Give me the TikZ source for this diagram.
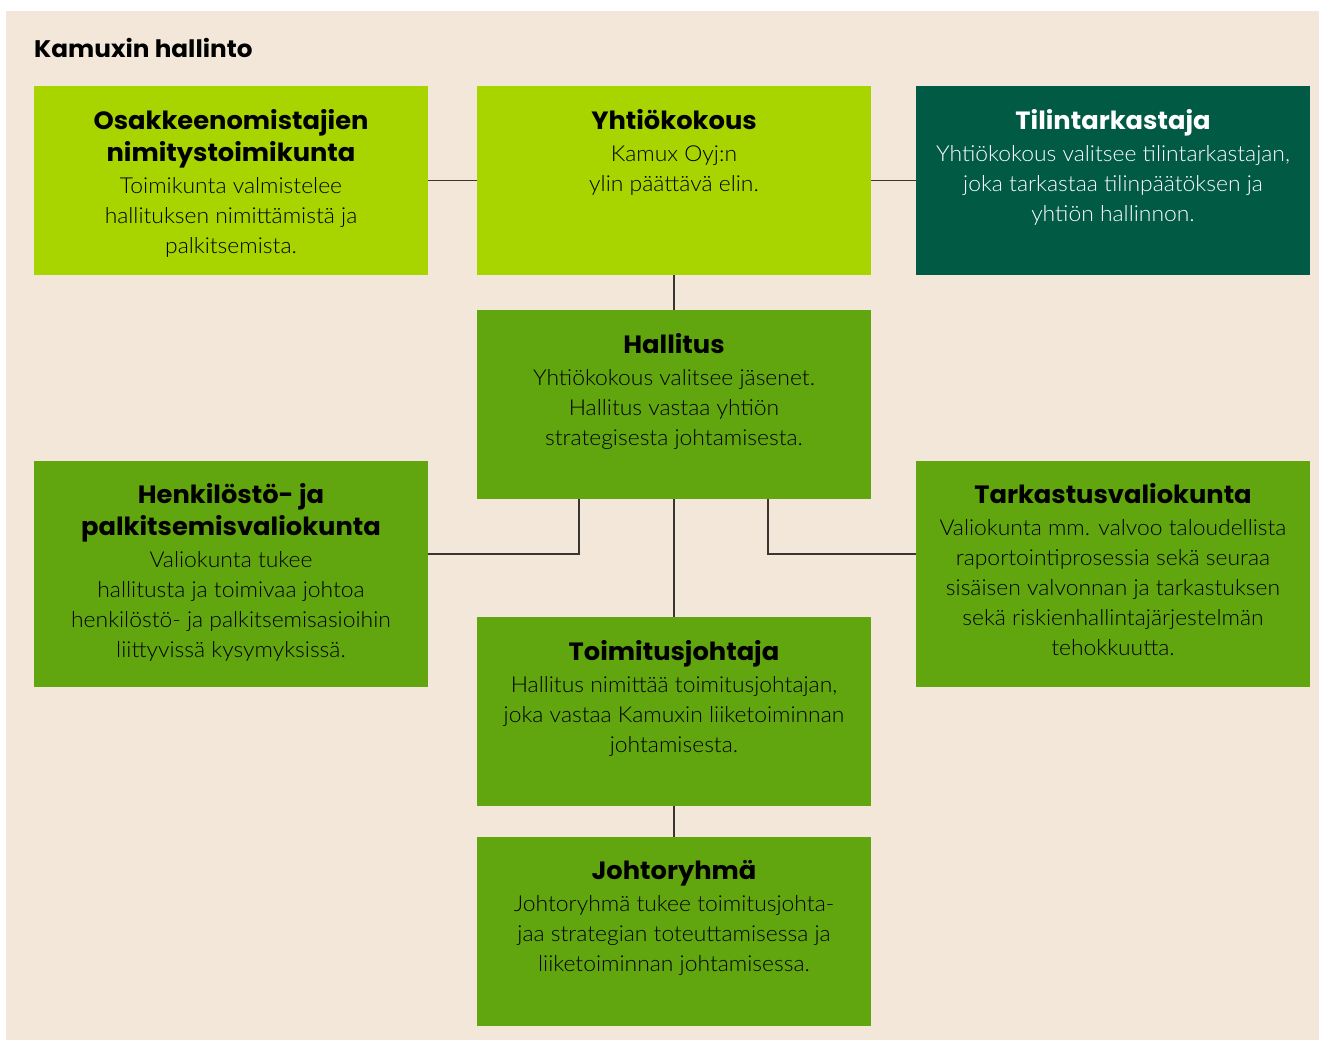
\documentclass[tikz,border=0pt]{standalone}
\usepackage{fontspec}
\IfFontExistsTF{Lato Light}{\setmainfont{Lato Light}[FakeStretch=1.04]}{\setmainfont{Lato}[FakeStretch=1.04]}
\newfontfamily\headfont{Poppins}[FakeStretch=1.03]
\usetikzlibrary{calc}
\definecolor{beige}{HTML}{F3E7DA}
\definecolor{lime}{HTML}{A8D400}
\definecolor{midgreen}{HTML}{62A60F}
\definecolor{darkgreen}{HTML}{005A44}
\definecolor{linecol}{HTML}{3A3530}
\newcommand{\hd}[1]{{\headfont\bfseries\fontsize{25}{30}\selectfont #1}}
\tikzset{
  box/.style={minimum width=394pt, minimum height=189pt, inner sep=0pt, outer sep=0pt, anchor=north west},
  boxtext/.style={anchor=north, inner sep=0pt, align=center, font=\fontsize{22}{30}\selectfont, text=black},
  conn/.style={draw=linecol, line width=1.3pt},
}
\begin{document}
\begin{tikzpicture}[x=1pt,y=-1pt]
\useasboundingbox (0,0) rectangle (1319,1040);
\fill[white] (0,0) rectangle (1319,1040);
\fill[beige] (6,11) rectangle (1319,1040);
\node[anchor=base west, inner sep=0pt] (title) at (34,57.5) {\headfont\bfseries\fontsize{24}{28}\selectfont Kamuxin hallinto};
% boxes
\node[box, fill=lime] (onk) at (34,86) {};
\node[box, fill=lime] (yk) at (477,86) {};
\node[box, fill=darkgreen] (tt) at (916,86) {};
\node[box, fill=midgreen] (hal) at (477,310) {};
\node[box, fill=midgreen, minimum height=226pt] (hpv) at (34,461) {};
\node[box, fill=midgreen, minimum height=226pt] (tv) at (916,461) {};
\node[box, fill=midgreen] (tj) at (477,617) {};
\node[box, fill=midgreen] (jr) at (477,837) {};
% texts
\node[boxtext] (onkt) at ($(onk.north)+(0,23)$) {\hd{Osakkeenomistajien}\\[2pt]\hd{nimitystoimikunta}\\[2pt]Toimikunta valmistelee\\hallituksen nimittämistä ja\\palkitsemista.};
\node[boxtext] (ykt) at ($(yk.north)+(0,23)$) {\hd{Yhtiökokous}\\[2pt]Kamux Oyj:n\\ylin päättävä elin.};
\node[boxtext, text=white] (ttt) at ($(tt.north)+(0,23)$) {\hd{Tilintarkastaja}\\[2pt]Yhtiökokous valitsee tilintarkastajan,\\joka tarkastaa tilinpäätöksen ja\\yhtiön hallinnon.};
\node[boxtext] (halt) at ($(hal.north)+(0,23)$) {\hd{Hallitus}\\[2pt]Yhtiökokous valitsee jäsenet.\\Hallitus vastaa yhtiön\\strategisesta johtamisesta.};
\node[boxtext] (hpvt) at ($(hpv.north)+(0,22)$) {\hd{Henkilöstö- ja}\\[2pt]\hd{palkitsemisvaliokunta}\\[2pt]Valiokunta tukee\\hallitusta ja toimivaa johtoa\\henkilöstö- ja palkitsemisasioihin\\liittyvissä kysymyksissä.};
\node[boxtext] (tvt) at ($(tv.north)+(0,22)$) {\hd{Tarkastusvaliokunta}\\[2pt]Valiokunta mm. valvoo taloudellista\\raportointiprosessia sekä seuraa\\sisäisen valvonnan ja tarkastuksen\\sekä riskienhallintajärjestelmän\\tehokkuutta.};
\node[boxtext] (tjt) at ($(tj.north)+(0,23)$) {\hd{Toimitusjohtaja}\\[2pt]Hallitus nimittää toimitusjohtajan,\\joka vastaa Kamuxin liiketoiminnan\\johtamisesta.};
\node[boxtext] (jrt) at ($(jr.north)+(0,23)$) {\hd{Johtoryhmä}\\[2pt]Johtoryhmä tukee toimitusjohta-\\jaa strategian toteuttamisessa ja\\liiketoiminnan johtamisessa.};
% connectors
\draw[conn] (onk.east) -- (yk.west);
\draw[conn] (yk.east) -- (tt.west);
\draw[conn] (yk.south) -- (hal.north);
\draw[conn] (hal.south) -- (tj.north);
\draw[conn] (tj.south) -- (jr.north);
\coordinate (hl) at ($(hal.south west)+(102,0)$);
\coordinate (hr) at ($(hal.south east)+(-103,0)$);
\coordinate (pl) at ($(hpv.east)+(0,-20)$);
\coordinate (pr) at ($(tv.west)+(0,-20)$);
\draw[conn] (hl) |- (pl);
\draw[conn] (hr) |- (pr);
\end{tikzpicture}
\end{document}
